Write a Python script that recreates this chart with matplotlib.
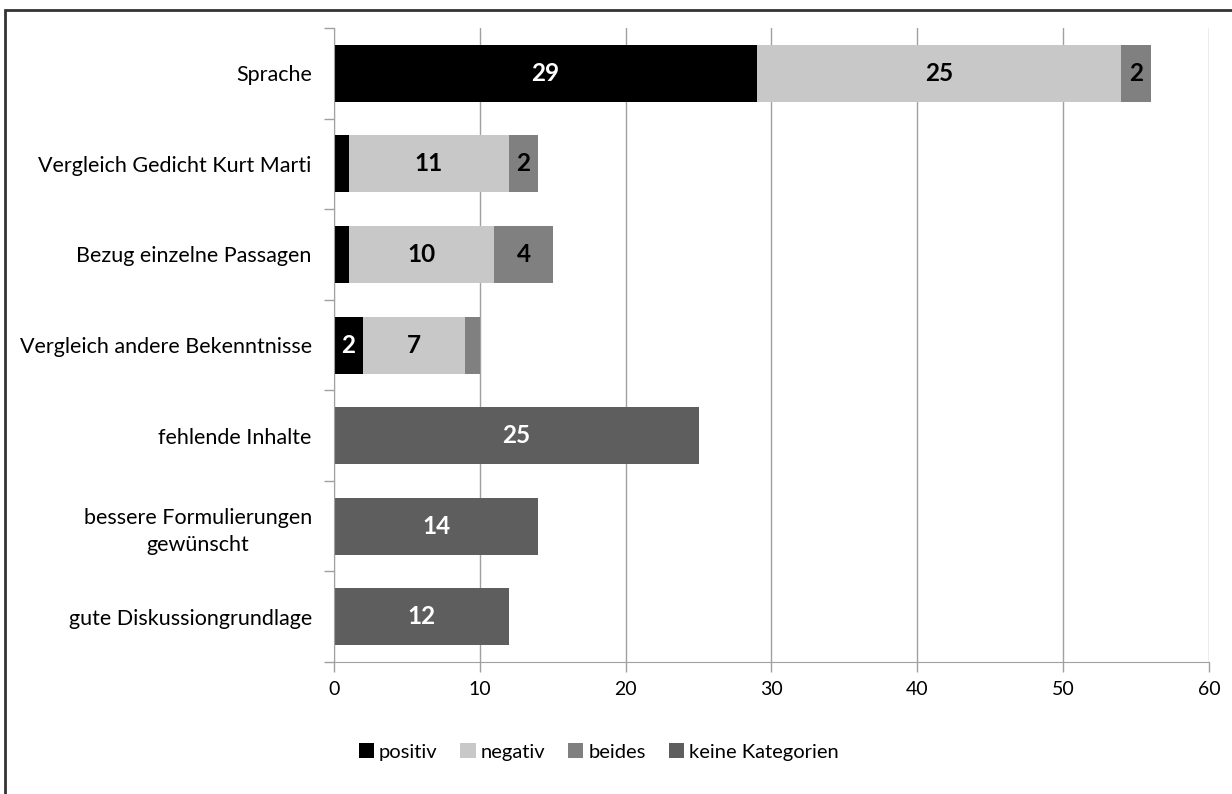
import numpy as np
import matplotlib.pyplot as plt
from matplotlib.patches import Rectangle

plt.rcParams['font.family'] = ['Lato', 'DejaVu Sans']

categories = ["Sprache", "Vergleich Gedicht Kurt Marti", "Bezug einzelne Passagen",
              "Vergleich andere Bekenntnisse", "fehlende Inhalte",
              "bessere Formulierungen\ngewünscht", "gute Diskussiongrundlage"]
positiv = [29, 1, 1, 2, 0, 0, 0]
negativ = [25, 11, 10, 7, 0, 0, 0]
beides = [2, 2, 4, 1, 0, 0, 0]
keine = [0, 0, 0, 0, 25, 14, 12]

series = [("positiv", positiv, "#000000", "white"),
          ("negativ", negativ, "#c8c8c8", "black"),
          ("beides", beides, "#808080", "black"),
          ("keine Kategorien", keine, "#5e5e5e", "white")]

fig = plt.figure(figsize=(12.32, 7.94), dpi=100)
ax = fig.add_axes([0.2711, 0.1662, 0.7102, 0.7985])

y = np.arange(len(categories))
left = np.zeros(len(categories))
for name, vals, col, tcol in series:
    vals = np.array(vals, dtype=float)
    ax.barh(y, vals, left=left, height=0.63, color=col, label=name, zorder=3)
    for yi, (l, v) in enumerate(zip(left, vals)):
        if v >= 2:
            ax.text(l + v / 2, yi, f"{int(v)}", ha="center", va="center",
                    color=tcol, fontsize=17.5, fontweight="bold", zorder=4)
    left += vals

ax.set_xlim(0, 60)
ax.set_ylim(len(categories) - 0.5, -0.5)
ax.set_xticks(range(0, 61, 10))
ax.set_yticks(y)
ax.set_yticklabels(categories, fontsize=15.5)
ax.set_yticks(np.arange(-0.5, len(categories), 1), minor=True)
ax.tick_params(axis="y", which="major", length=0, pad=16)
ax.tick_params(axis="y", which="minor", length=7, color="#a0a0a0", width=1)
ax.tick_params(axis="x", length=7, color="#a0a0a0", width=1, labelsize=14, pad=7)
for lbl in ax.get_yticklabels():
    lbl.set_multialignment("center")
    lbl.set_linespacing(1.4)

ax.grid(axis="x", color="#a0a0a0", linewidth=1, zorder=0)
for s in ["top", "right"]:
    ax.spines[s].set_visible(False)
for s in ["left", "bottom"]:
    ax.spines[s].set_color("#a0a0a0")
    ax.spines[s].set_zorder(5)

fig.legend(*ax.get_legend_handles_labels(), loc="center", bbox_to_anchor=(0.486, 0.053),
           ncol=4, frameon=False, fontsize=14.5, handlelength=0.75, handleheight=0.75,
           handletextpad=0.25, columnspacing=1.15)

fig.patches.append(Rectangle((5 / 1232, -0.1), 1.2, 1.1 - 10 / 794,
                             transform=fig.transFigure, fill=False,
                             edgecolor="#333333", linewidth=2))

fig.savefig("out.png", dpi=100)
